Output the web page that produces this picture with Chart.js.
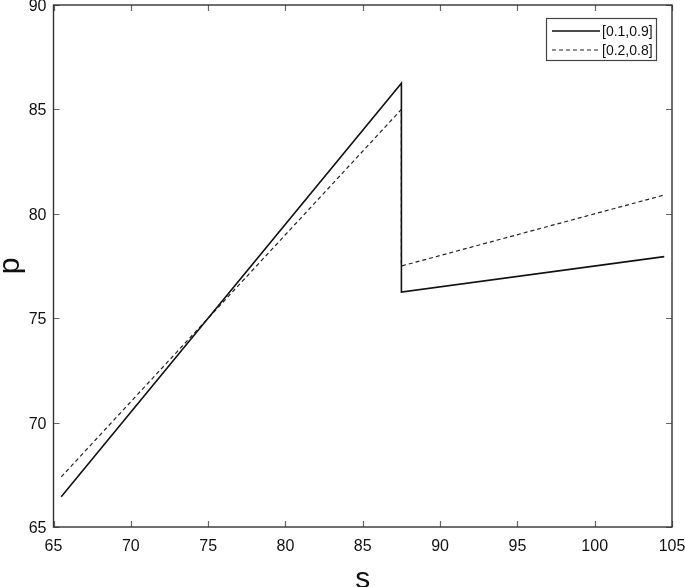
<!DOCTYPE html>
<html>
<head>
<meta charset="utf-8">
<title>p vs s</title>
<script src="https://cdn.jsdelivr.net/npm/chart.js@4"></script>
<style>
  html, body { margin: 0; padding: 0; background: #fff; }
  #wrap { width: 685px; height: 587px; }
</style>
</head>
<body>
<div id="wrap"><canvas id="chart" width="685" height="587"></canvas></div>
<script>
/* ========== Data ========== */
const seriesLabels = ['[0.1,0.9]', '[0.2,0.8]'];

// [0.1,0.9] : rises, drops at s = 87.5, then rises slowly
const solidS = [65.5, 87.5, 87.5, 104.5];
const solidP = [66.45, 86.25, 76.25, 77.95];

// [0.2,0.8]
const dashedS = [65.5, 87.5, 87.5, 104.5];
const dashedP = [67.4, 85.0, 77.5, 80.9];

const xTicks = [65, 70, 75, 80, 85, 90, 95, 100, 105];
const yTicks = [65, 70, 75, 80, 85, 90];

const toPoints = (xs, ys) => xs.map((x, i) => ({ x: x, y: ys[i] }));

/* ========== Plugins ========== */
// box round the plot plus inward tick marks on all four sides
const frameTicksPlugin = {
  id: 'frameTicks',
  afterDatasetsDraw(chart) {
    const { ctx, chartArea: a, scales } = chart;
    const len = 6;
    ctx.save();
    ctx.strokeStyle = '#666';
    ctx.lineWidth = 1.2;
    ctx.beginPath();
    xTicks.forEach(v => {
      const px = Math.round(scales.x.getPixelForValue(v)) + 0.5;
      ctx.moveTo(px, a.bottom); ctx.lineTo(px, a.bottom - len);
      ctx.moveTo(px, a.top); ctx.lineTo(px, a.top + len);
    });
    yTicks.forEach(v => {
      const py = Math.round(scales.y.getPixelForValue(v)) + 0.5;
      ctx.moveTo(a.left, py); ctx.lineTo(a.left + len, py);
      ctx.moveTo(a.right, py); ctx.lineTo(a.right - len, py);
    });
    ctx.stroke();
    ctx.strokeStyle = '#333';
    ctx.lineWidth = 1.4;
    ctx.strokeRect(a.left, a.top, a.right - a.left, a.bottom - a.top);
    ctx.restore();
  }
};

// boxed legend in the upper right corner
const boxLegendPlugin = {
  id: 'boxLegend',
  afterDraw(chart) {
    const { ctx } = chart;
    const bx = 546, by = 18, bw = 110, bh = 42;
    ctx.save();
    ctx.fillStyle = '#fff';
    ctx.fillRect(bx, by, bw, bh);
    ctx.strokeStyle = '#444';
    ctx.lineWidth = 1.2;
    ctx.strokeRect(bx + 0.5, by + 0.5, bw, bh);
    chart.data.datasets.forEach((ds, i) => {
      const y = by + 13 + i * 19;
      ctx.beginPath();
      ctx.strokeStyle = ds.borderColor;
      ctx.lineWidth = ds.borderWidth;
      ctx.setLineDash(ds.borderDash || []);
      ctx.moveTo(bx + 6, y);
      ctx.lineTo(bx + 54, y);
      ctx.stroke();
      ctx.setLineDash([]);
      ctx.fillStyle = '#111';
      ctx.font = '14px "Liberation Sans", Arial, sans-serif';
      ctx.textBaseline = 'middle';
      ctx.textAlign = 'left';
      ctx.fillText(ds.label, bx + 56, y + 1);
    });
    ctx.restore();
  }
};

/* ========== Chart ========== */
Chart.defaults.font.family = '"Liberation Sans", Arial, sans-serif';
Chart.defaults.color = '#111';

new Chart(document.getElementById('chart'), {
  type: 'scatter',
  data: {
    datasets: [
      {
        label: seriesLabels[0],
        data: toPoints(solidS, solidP),
        showLine: true,
        borderColor: '#111',
        borderWidth: 1.6,
        pointRadius: 0,
        tension: 0
      },
      {
        label: seriesLabels[1],
        data: toPoints(dashedS, dashedP),
        showLine: true,
        borderColor: '#222',
        borderWidth: 1.2,
        borderDash: [4, 3],
        pointRadius: 0,
        tension: 0
      }
    ]
  },
  options: {
    responsive: false,
    animation: false,
    events: [],
    layout: { padding: { top: 5, right: 13, bottom: 0, left: 0 } },
    plugins: {
      legend: { display: false },
      tooltip: { enabled: false }
    },
    scales: {
      x: {
        type: 'linear',
        min: 65,
        max: 105,
        grid: { display: false, drawTicks: false },
        border: { display: false },
        afterBuildTicks: s => { s.ticks = xTicks.map(v => ({ value: v })); },
        ticks: { padding: 10, font: { size: 16 }, color: '#111' },
        title: {
          display: true,
          text: 's',
          font: { size: 30, lineHeight: 0.5 },
          padding: 0,
          color: '#111'
        },
        afterFit: s => {
          s.height = 60;
          s.paddingLeft = 0; s.paddingRight = 0;
        }
      },
      y: {
        min: 65,
        max: 90,
        grid: { display: false, drawTicks: false },
        border: { display: false },
        afterBuildTicks: s => { s.ticks = yTicks.map(v => ({ value: v })); },
        ticks: { padding: 7, labelOffset: 1.5, font: { size: 16 }, color: '#111' },
        title: {
          display: true,
          text: 'p',
          font: { size: 30, lineHeight: 0.72 },
          padding: 0,
          color: '#111'
        },
        afterFit: s => {
          s.width = 53.5;
          s.paddingTop = 0; s.paddingBottom = 0;
        }
      }
    }
  },
  plugins: [frameTicksPlugin, boxLegendPlugin]
});
</script>
</body>
</html>
